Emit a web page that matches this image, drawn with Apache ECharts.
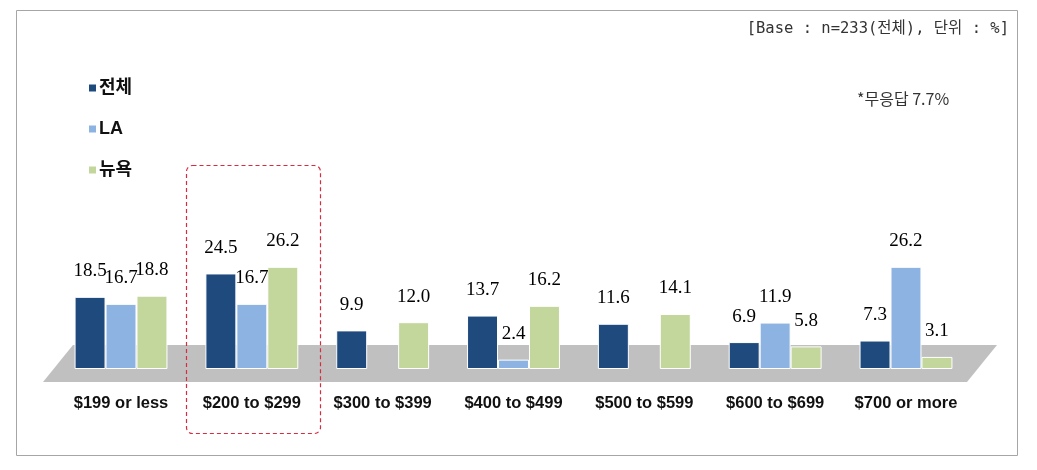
<!DOCTYPE html>
<html>
<head>
<meta charset="utf-8">
<script src="https://cdn.jsdelivr.net/npm/echarts@6/dist/echarts.min.js"></script>
<style>html,body{margin:0;padding:0;background:#fff}#c{width:1037px;height:470px}</style>
</head>
<body>
<div id="c"></div>
<script>
var categories = ['$199 or less', '$200 to $299', '$300 to $399', '$400 to $499', '$500 to $599', '$600 to $699', '$700 or more'];
var seriesNames = ['전체', 'LA', '뉴욕'];
var totalValues = [18.5, 24.5, 9.9, 13.7, 11.6, 6.9, 7.3];
var laValues = [16.7, 16.7, null, 2.4, null, 11.9, 26.2];
var nyValues = [18.8, 26.2, 12.0, 16.2, 14.1, 5.8, 3.1];
var baseNote = '[Base : n=233(전체), 단위 : %]';
var noAnswerNote = '*무응답 7.7%';

var colors = ['#1f4a7d', '#8db3e2', '#c3d69b'];
var chart = echarts.init(document.getElementById('c'));
function mk(name, data, color) {
  return {
    name: name, type: 'bar', data: data, barGap: '0%', barCategoryGap: '29%',
    itemStyle: { color: color, borderColor: '#ffffff', borderWidth: 1 },
    label: {
      show: true, position: 'top', distance: 16,
      fontFamily: 'Liberation Serif, serif', fontSize: 19, color: '#000',
      formatter: function (p) { return p.value == null ? '' : Number(p.value).toFixed(1); }
    },
    z: 3
  };
}
chart.setOption({
  animation: false,
  backgroundColor: '#ffffff',
  grid: { left: 55.6, right: 65.6, top: 252, bottom: 101 },
  legend: {
    orient: 'vertical', left: 82, top: 74, itemWidth: 9, itemHeight: 9, itemGap: 23, selectedMode: false,
    icon: 'rect',
    data: seriesNames,
    textStyle: { fontFamily: 'Liberation Sans, Noto Sans CJK KR, sans-serif', fontWeight: 'bold', fontSize: 18, color: '#111', lineHeight: 18, padding: [0, 0, 0, -3] }
  },
  xAxis: {
    type: 'category', data: categories,
    axisLine: { show: false }, axisTick: { show: false },
    axisLabel: { interval: 0, margin: 26, fontFamily: 'Liberation Sans, Arial, sans-serif', fontWeight: 'bold', fontSize: 16.5, color: '#111' }
  },
  yAxis: { type: 'value', min: 0, max: 30, show: false, splitLine: { show: false } },
  graphic: [
    { type: 'rect', z: -10, shape: { x: 16.5, y: 10.5, width: 1001, height: 445 }, style: { fill: '#ffffff', stroke: '#a6a6a6', lineWidth: 1 } },
    { type: 'polygon', z: 0, shape: { points: [[43, 382], [73, 345], [997, 345], [967, 382]] }, style: { fill: '#c0c0c0' } },
    { type: 'rect', z: 10, shape: { x: 186.5, y: 165.5, width: 134, height: 268, r: 6 }, style: { fill: 'none', stroke: '#d92a3f', lineWidth: 1.2, lineDash: [4, 3] } },
    { type: 'text', z: 10, right: 28, top: 21, style: { text: baseNote, font: '15.5px "DejaVu Sans Mono", "Noto Sans CJK KR", monospace', fill: '#333' } },
    { type: 'text', z: 10, left: 857, top: 91, style: { text: noAnswerNote, font: '16px "Noto Sans CJK KR", sans-serif', fill: '#333' } }
  ],
  series: [mk(seriesNames[0], totalValues, colors[0]), mk(seriesNames[1], laValues, colors[1]), mk(seriesNames[2], nyValues, colors[2])]
});
</script>
</body>
</html>
